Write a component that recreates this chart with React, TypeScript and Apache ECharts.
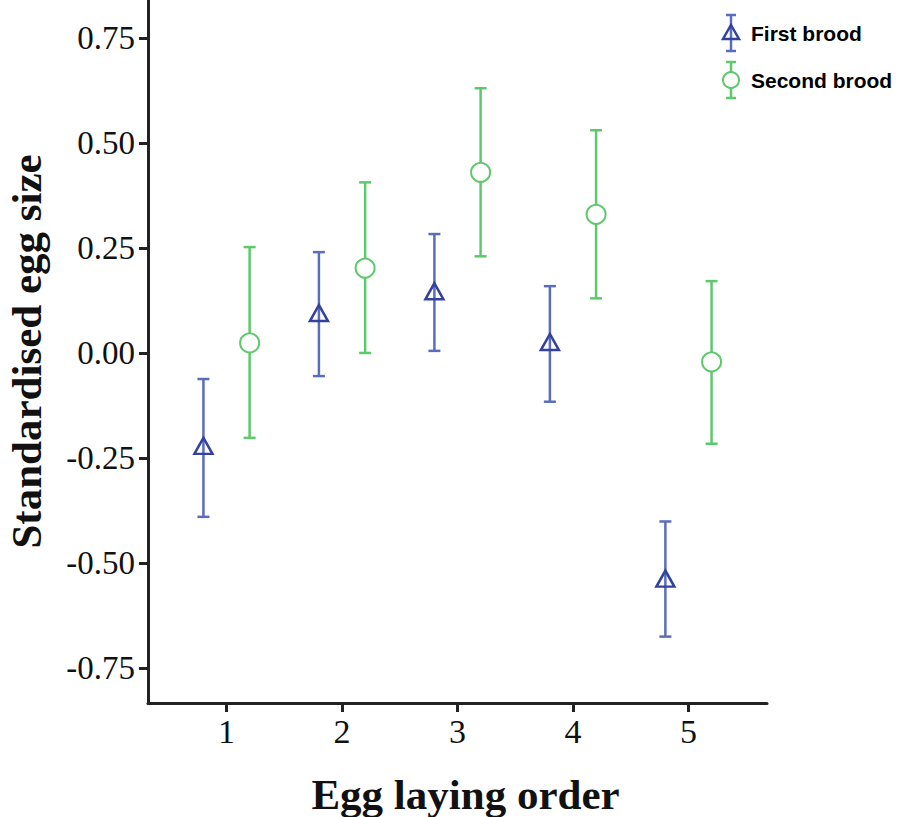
import React, { useEffect, useRef } from "react";
import * as echarts from "echarts";

const xTicks = [1, 2, 3, 4, 5];
const yTicks = [-0.75, -0.5, -0.25, 0, 0.25, 0.5, 0.75];

const firstX = [0.8, 1.8, 2.8, 3.8, 4.8];
const firstMean = [-0.221, 0.095, 0.147, 0.026, -0.537];
const firstLow = [-0.39, -0.055, 0.005, -0.116, -0.675];
const firstHigh = [-0.062, 0.24, 0.283, 0.159, -0.401];

const secondX = [1.2, 2.2, 3.2, 4.2, 5.2];
const secondMean = [0.024, 0.202, 0.43, 0.33, -0.021];
const secondLow = [-0.202, 0.0, 0.23, 0.13, -0.216];
const secondHigh = [0.252, 0.406, 0.63, 0.53, 0.171];

const BLUE_LINE = "#5a6dbd";
const BLUE_MARK = "#33429f";
const GREEN = "#5cc96b";

function errorSeries(xs: number[], lo: number[], hi: number[], color: string) {
  return {
    type: "custom",
    silent: true,
    data: xs.map((x, i) => [x, lo[i], hi[i]]),
    encode: { x: 0, y: [1, 2] },
    z: 2,
    renderItem: (params: any, api: any) => {
      const x = api.value(0);
      const p1 = api.coord([x, api.value(1)]);
      const p2 = api.coord([x, api.value(2)]);
      const hw = 6;
      const style = { stroke: color, lineWidth: 2.5 };
      return {
        type: "group",
        children: [
          { type: "line", shape: { x1: p1[0], y1: p1[1], x2: p2[0], y2: p2[1] }, style },
          { type: "line", shape: { x1: p1[0] - hw, y1: p1[1], x2: p1[0] + hw, y2: p1[1] }, style },
          { type: "line", shape: { x1: p2[0] - hw, y1: p2[1], x2: p2[0] + hw, y2: p2[1] }, style },
        ],
      };
    },
  };
}

export default function App() {
  const ref = useRef<HTMLDivElement>(null);
  useEffect(() => {
    if (!ref.current) return;
    const chart = echarts.init(ref.current, null, { renderer: "svg" });
    const serif = "'Liberation Serif', 'Times New Roman', serif";
    const sans = "'Liberation Sans', Arial, sans-serif";
    const legendItems = [
      { name: "First brood", y: 33, color: BLUE_LINE, mark: BLUE_MARK, tri: true },
      { name: "Second brood", y: 80, color: GREEN, mark: GREEN, tri: false },
    ];
    const graphic: any[] = [];
    legendItems.forEach((it) => {
      const cx = 731;
      const st = { stroke: it.color, lineWidth: 2.5 };
      graphic.push({ type: "line", shape: { x1: cx, y1: it.y - 18, x2: cx, y2: it.y + 18 }, style: st });
      graphic.push({ type: "line", shape: { x1: cx - 5, y1: it.y - 18, x2: cx + 5, y2: it.y - 18 }, style: st });
      graphic.push({ type: "line", shape: { x1: cx - 5, y1: it.y + 18, x2: cx + 5, y2: it.y + 18 }, style: st });
      if (it.tri) {
        graphic.push({
          type: "polygon",
          shape: { points: [[cx, it.y - 8], [cx + 8, it.y + 6], [cx - 8, it.y + 6]] },
          style: { fill: "rgba(255,255,255,0)", stroke: it.mark, lineWidth: 2.5 },
        });
      } else {
        graphic.push({
          type: "circle",
          shape: { cx, cy: it.y, r: 8 },
          style: { fill: "#fff", stroke: it.mark, lineWidth: 2 },
        });
      }
      graphic.push({
        type: "text",
        x: 751,
        y: it.y,
        style: { text: it.name, font: `bold 21px ${sans}`, fill: "#000", verticalAlign: "middle" },
      });
    });

    chart.setOption({
      animation: false,
      backgroundColor: "#fff",
      grid: { left: 148, right: 131, top: 0, bottom: 114, containLabel: false, outerBoundsMode: "none" },
      xAxis: {
        type: "value",
        min: 0.32,
        max: 5.68,
        name: "Egg laying order",
        nameLocation: "middle",
        nameGap: 70,
        nameTextStyle: { fontFamily: serif, fontWeight: "bold", fontSize: 43, color: "#111", padding: [0, 0, 0, 16] },
        axisLine: { show: true, onZero: false, lineStyle: { color: "#222", width: 3 } },
        axisTick: { show: true, customValues: xTicks, length: 9, lineStyle: { color: "#222", width: 3 } },
        axisLabel: {
          customValues: xTicks,
          fontFamily: serif,
          fontSize: 34,
          color: "#111",
          margin: 11,
          formatter: (v: number) => String(v),
        },
        splitLine: { show: false },
      },
      yAxis: {
        type: "value",
        min: -0.833,
        max: 0.84,
        name: "Standardised egg size",
        nameLocation: "middle",
        nameGap: 100,
        nameTextStyle: { fontFamily: serif, fontWeight: "bold", fontSize: 43, color: "#111" },
        axisLine: { show: true, onZero: false, lineStyle: { color: "#222", width: 3 } },
        axisTick: { show: true, customValues: yTicks, length: 9, lineStyle: { color: "#222", width: 3 } },
        axisLabel: {
          customValues: yTicks,
          fontFamily: serif,
          fontSize: 33,
          color: "#111",
          margin: 13,
          formatter: (v: number) => v.toFixed(2),
        },
        splitLine: { show: false },
      },
      graphic,
      series: [
        errorSeries(firstX, firstLow, firstHigh, BLUE_LINE),
        errorSeries(secondX, secondLow, secondHigh, GREEN),
        {
          type: "scatter",
          name: "First brood",
          data: firstX.map((x, i) => [x, firstMean[i]]),
          symbol: "triangle",
          symbolSize: [18, 16],
          itemStyle: { color: "rgba(255,255,255,0)", borderColor: BLUE_MARK, borderWidth: 2.5, opacity: 1 },
          z: 3,
        },
        {
          type: "scatter",
          name: "Second brood",
          data: secondX.map((x, i) => [x, secondMean[i]]),
          symbol: "circle",
          symbolSize: 19,
          itemStyle: { color: "#fff", borderColor: GREEN, borderWidth: 2, opacity: 1 },
          z: 3,
        },
      ],
    });
    return () => chart.dispose();
  }, []);
  return <div ref={ref} style={{ width: 898, height: 817, position: "absolute", left: 0, top: 0 }} />;
}
